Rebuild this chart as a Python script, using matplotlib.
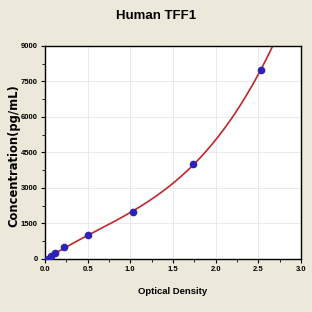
import numpy as np
import matplotlib
matplotlib.use("Agg")
import matplotlib.pyplot as plt
from matplotlib.ticker import MultipleLocator
from matplotlib import font_manager

od = [0.04, 0.07, 0.12, 0.22, 0.51, 1.03, 1.74, 2.53]
conc = [0, 125, 250, 500, 1000, 2000, 4000, 8000]
xticks = [0.0, 0.5, 1.0, 1.5, 2.0, 2.5, 3.0]
yticks = [0, 1500, 3000, 4500, 6000, 7500, 9000]

names = {f.name for f in font_manager.fontManager.ttflist}
fam = 'Liberation Sans Narrow' if 'Liberation Sans Narrow' in names else 'Liberation Sans'
plt.rcParams['font.family'] = [fam, 'DejaVu Sans']

bg = '#ECE9DB'
fig = plt.figure(figsize=(3.12, 3.12), dpi=100, facecolor=bg)
ax = fig.add_axes([0.144, 0.170, 0.821, 0.683])
ax.set_facecolor('white')

coef = np.polyfit(od, conc, 3)
xs = np.linspace(0, 3.0, 300)
ax.plot(xs, np.polyval(coef, xs), color='#C0272D', lw=1.2, zorder=2)
ax.plot(od, conc, 'o', color='#2B22B8', ms=4.5, zorder=3)

ax.set_xlim(0, 3.0)
ax.set_ylim(0, 9000)
ax.set_xticks(xticks)
ax.set_yticks(yticks)
ax.xaxis.set_minor_locator(MultipleLocator(0.25))
ax.yaxis.set_minor_locator(MultipleLocator(750))
ax.set_xticklabels([f"{v:.1f}" for v in xticks], fontsize=5.5, fontweight='bold')
ax.set_yticklabels([str(v) for v in yticks], fontsize=5.5, fontweight='bold')
ax.tick_params(which='major', length=3, width=0.8, direction='out', pad=2)
ax.tick_params(which='minor', length=2, width=0.6, direction='out')
ax.grid(True, which='major', color='#E6E6E6', lw=0.6)
ax.set_axisbelow(True)
for s in ax.spines.values():
    s.set_linewidth(1.0)
    s.set_color('black')

ax.set_xlabel('Optical Density', fontsize=6.8, fontweight='bold', labelpad=10)
ax.set_ylabel('Concentration(pg/mL)', fontsize=8.3, fontweight='bold',
              family=['DejaVu Sans'])
ax.yaxis.set_label_coords(-0.094, 0.485)
fig.text(0.5, 0.948, 'Human TFF1', ha='center', va='center', fontsize=9.5, fontweight='bold')

fig.savefig('out.png', dpi=100, facecolor=bg)
